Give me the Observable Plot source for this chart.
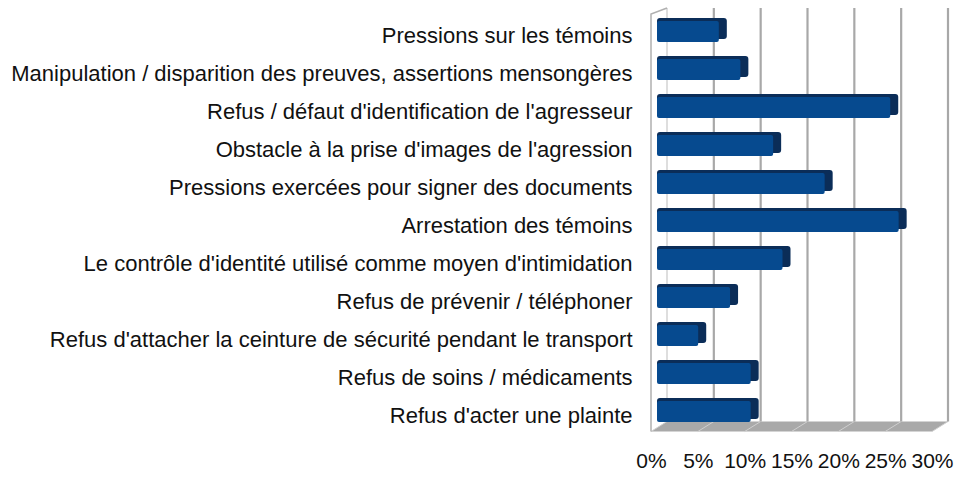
<!DOCTYPE html>
<html>
<head>
<meta charset="utf-8">
<script src="https://cdn.jsdelivr.net/npm/d3@7"></script>
<script src="https://cdn.jsdelivr.net/npm/@observablehq/plot@0.6"></script>
<style>
  html, body { margin: 0; padding: 0; background: #fff; }
  #chart svg { display: block; }
</style>
</head>
<body>
<div id="chart"></div>
<script>
const categories = [
  "Pressions sur les témoins",
  "Manipulation / disparition des preuves, assertions mensongères",
  "Refus / défaut d'identification de l'agresseur",
  "Obstacle à la prise d'images de l'agression",
  "Pressions exercées pour signer des documents",
  "Arrestation des témoins",
  "Le contrôle d'identité utilisé comme moyen d'intimidation",
  "Refus de prévenir / téléphoner",
  "Refus d'attacher la ceinture de sécurité pendant le transport",
  "Refus de soins / médicaments",
  "Refus d'acter une plainte"
];
const values = [6.6, 8.9, 24.9, 12.4, 17.9, 25.8, 13.4, 7.8, 4.4, 10.0, 10.0];
const xTicks = [0, 5, 10, 15, 20, 25, 30];

const data = categories.map((c, i) => ({category: c, value: values[i]}));

// 3D depth offset of the back wall relative to the front plane
const DEPTH_X = 16, DEPTH_Y = 10;

function frame3d(index, scales, vals, dims) {
  const x = scales.x;
  const g = d3.create("svg:g");
  const yF = dims.height - dims.marginBottom + 1;
  const yB = yF - DEPTH_Y;
  const top = 8;
  const x0 = x(xTicks[0]), x1 = x(xTicks[xTicks.length - 1]);
  // floor
  g.append("polygon")
    .attr("points", `${x0},${yF} ${x1},${yF} ${x1 + DEPTH_X},${yB} ${x0 + DEPTH_X},${yB}`)
    .attr("fill", "#a9a9a9");
  // floor lines
  for (const t of xTicks) {
    g.append("line")
      .attr("x1", x(t) + DEPTH_X).attr("y1", yB)
      .attr("x2", x(t)).attr("y2", yF)
      .attr("stroke", "#cfcfcf").attr("stroke-width", 1);
  }
  // back wall gridlines
  for (const t of xTicks) {
    g.append("line")
      .attr("x1", x(t) + DEPTH_X).attr("y1", top)
      .attr("x2", x(t) + DEPTH_X).attr("y2", yB)
      .attr("stroke", t === 0 ? "#c8c8c8" : "#a8a8a8").attr("stroke-width", t === 0 ? 1.2 : 2.2);
  }
  // left wall
  g.append("polyline")
    .attr("points", `${x0},${yF} ${x0},${top + DEPTH_Y * 0.6} ${x0 + DEPTH_X},${top}`)
    .attr("fill", "none").attr("stroke", "#b0b0b0").attr("stroke-width", 1.5);
  return g.node();
}

const plot = Plot.plot({
  width: 964,
  height: 478,
  marginTop: 12.5,
  marginBottom: 47.5,
  marginLeft: 651,
  marginRight: 32,
  style: {fontFamily: "'Liberation Sans', Arial, sans-serif", fontSize: "21.5px", color: "#111", background: "#fff"},
  x: {domain: [0, 30], ticks: xTicks, axis: null},
  y: {domain: categories, paddingInner: 0.447, paddingOuter: 0.2235, axis: null},
  marks: [
    frame3d,
    Plot.barX(data, {x: "value", y: "category", fill: "#0b2d58", dx: 14, dy: -3, insetLeft: -8, rx: 3}),
    Plot.barX(data, {x: "value", y: "category", fill: "#064a8f", dx: 6, rx: 2}),
    Plot.axisY({tickSize: 0, tickPadding: 19, dy: 4, fontSize: 22, label: null}),
    Plot.axisX({ticks: xTicks, tickSize: 0, tickPadding: 22.5, tickFormat: d => d + "%", fontSize: 21, label: null})
  ]
});
document.getElementById("chart").appendChild(plot);
</script>
</body>
</html>
